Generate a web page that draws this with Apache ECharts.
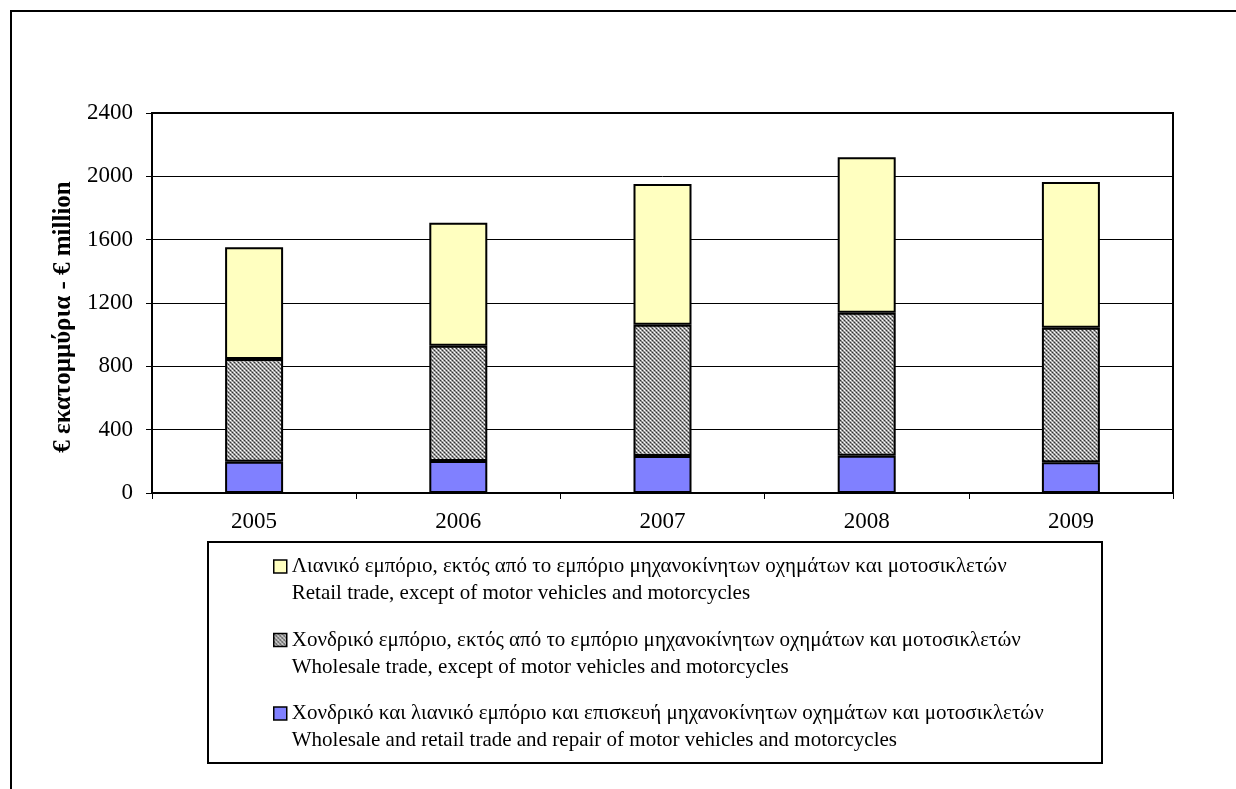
<!DOCTYPE html>
<html>
<head>
<meta charset="utf-8">
<script src="https://cdn.jsdelivr.net/npm/echarts@6/dist/echarts.min.js"></script>
<style>
html,body{margin:0;padding:0;background:#fff;}
#c{width:1236px;height:789px;}
</style>
</head>
<body>
<div id="c"></div>
<script>
const years = ['2005','2006','2007','2008','2009'];
const motorVehicles = [198, 202, 234, 236, 194];
const wholesale = [648, 728, 829, 903, 850];
const retail = [706, 777, 889, 981, 920];
const yTicks = {min: 0, max: 2400, interval: 400};
const seriesNames = [
  'Χονδρικό και λιανικό εμπόριο και επισκευή μηχανοκίνητων οχημάτων και μοτοσικλετών\nWholesale and retail trade and repair of motor vehicles and motorcycles',
  'Χονδρικό εμπόριο, εκτός από το εμπόριο μηχανοκίνητων οχημάτων και μοτοσικλετών\nWholesale trade, except of motor vehicles and motorcycles',
  'Λιανικό εμπόριο, εκτός από το εμπόριο μηχανοκίνητων οχημάτων και μοτοσικλετών\nRetail trade, except of motor vehicles and motorcycles'
];
const yAxisName = '€ εκατομμύρια - € million';

function makePattern(){
  const c = document.createElement('canvas');
  c.width = 4; c.height = 4;
  const ctx = c.getContext('2d');
  const px = (x,y,col) => { ctx.fillStyle = col; ctx.fillRect(x,y,1,1); };
  ctx.fillStyle = '#a0a0a0'; ctx.fillRect(0,0,4,4);
  px(0,0,'#333333'); px(2,2,'#333333');
  px(2,0,'#ffffff'); px(0,2,'#ffffff');
  px(1,1,'#707070'); px(3,3,'#707070');
  px(1,3,'#d0d0d0'); px(3,1,'#d0d0d0');
  return c;
}
const hatch = {image: makePattern(), repeat: 'repeat'};

const font = 'Liberation Serif, Times New Roman, serif';
const chart = echarts.init(document.getElementById('c'), null, {renderer:'canvas'});
const L = 27;
const barStyle = (color) => ({color: color, borderColor: '#000', borderWidth: 2});
chart.setOption({
  animation: false,
  backgroundColor: '#fff',
  textStyle: {fontFamily: font, color: '#000'},
  graphic: [
    {type:'rect', shape:{x:11, y:11, width:1240, height:800}, style:{fill:'none', stroke:'#000', lineWidth:2}, z:-1},
    {type:'rect', shape:{x:208, y:542, width:894, height:221}, style:{fill:'#fff', stroke:'#000', lineWidth:2}, z:-1}
  ],
  grid: {left:152, top:113, right:1236-1173, bottom:789-493, show:true, borderColor:'#000', borderWidth:2, backgroundColor:'transparent'},
  legend: {
    orient: 'vertical',
    left: 268, top: 521,
    itemWidth: 13, itemHeight: 13,
    itemGap: -7.5,
    icon: 'rect',
    data: [seriesNames[2], seriesNames[1], seriesNames[0]],
    formatter: (name) => {
      const parts = name.split('\n');
      return '{e| }\n{t|' + parts[0] + '}\n{t|' + parts[1] + '}';
    },
    textStyle: {
      fontFamily: font, fontSize: 21, color:'#000', lineHeight: L,
      rich: {
        e: {fontFamily: font, fontSize: 21, lineHeight: L},
        t: {fontFamily: font, fontSize: 21, lineHeight: L, color: '#000'}
      }
    },
    itemStyle: {borderColor:'#000', borderWidth:1.5}
  },
  xAxis: {
    type: 'category', data: years,
    axisLine: {lineStyle:{color:'#000', width:2}},
    axisTick: {show:true, length:6, lineStyle:{color:'#000', width:1}},
    axisLabel: {fontFamily: font, fontSize: 23, color:'#000', margin: 17}
  },
  yAxis: {
    type: 'value', min: yTicks.min, max: yTicks.max, interval: yTicks.interval,
    name: yAxisName, nameLocation: 'middle', nameGap: 76, nameRotate: 90,
    nameTextStyle: {fontFamily: font, fontSize: 25, fontWeight: 'bold', color:'#000', padding: [0, 28, 0, 0]},
    axisLine: {show:true, lineStyle:{color:'#000', width:2}},
    axisTick: {show:true, length:6, lineStyle:{color:'#000', width:1}},
    axisLabel: {fontFamily: font, fontSize: 23, color:'#000', margin: 19, formatter: (v) => String(v)},
    splitLine: {show:true, lineStyle:{color:'#000', width:1}}
  },
  series: [
    {name: seriesNames[0], type:'bar', stack:'s', data: motorVehicles, barWidth: 58, itemStyle: barStyle('#8080ff')},
    {name: seriesNames[1], type:'bar', stack:'s', data: wholesale, barWidth: 58, itemStyle: barStyle(hatch)},
    {name: seriesNames[2], type:'bar', stack:'s', data: retail, barWidth: 58, itemStyle: barStyle('#ffffc0')}
  ]
});
</script>
</body>
</html>
